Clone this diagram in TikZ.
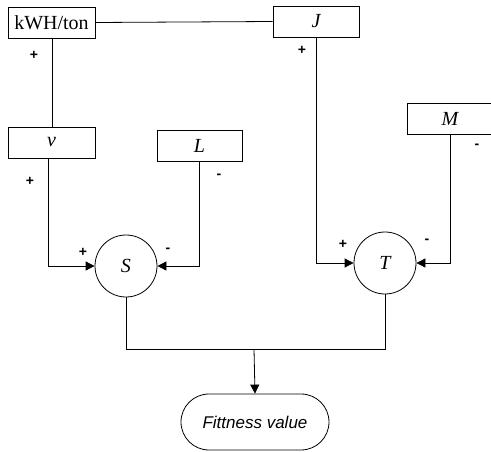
\documentclass[tikz,border=0pt]{standalone}
\usepackage{fontspec}
\setmainfont{Liberation Serif}
\newfontfamily\arialfont{Liberation Sans}
\usetikzlibrary{arrows.meta,shapes.misc}
\begin{document}
\begin{tikzpicture}[x=1pt,y=-1pt,
  line width=0.8pt,
  box/.style={draw, rectangle, minimum height=31pt, inner sep=0pt, font=\fontsize{20}{24}\selectfont},
  sumnode/.style={draw, circle, minimum size=62pt, inner sep=0pt, font=\fontsize{20}{24}\selectfont},
  outbox/.style={draw, rounded rectangle, minimum width=148pt, minimum height=56pt, inner sep=0pt, font=\arialfont\itshape\fontsize{17}{20}\selectfont},
  sign/.style={inner sep=0pt, font=\arialfont\bfseries\fontsize{14}{16}\selectfont},
  arr/.style={-{Triangle[length=9pt,width=9pt]}}]
\useasboundingbox (0,0) rectangle (491,452);
\node[box, minimum width=87pt] (k) at (51.5,22.5) {kWH/ton};
\node[box, minimum width=86pt] (J) at (316,21.5) {\itshape J};
\node[box, minimum width=87pt] (v) at (51.5,142.5) {\itshape v};
\node[box, minimum width=85pt] (L) at (199.5,145.5) {\itshape L};
\node[box, minimum width=86pt] (M) at (450,118.5) {\itshape M};
\node[sumnode] (S) at (126,266) {\itshape S};
\node[sumnode] (T) at (385,263) {\itshape T};
\node[outbox] (F) at (255,422) {Fittness value};
\coordinate (j) at (254,349);
% connectors
\draw (k.east) -- (J.west);
\draw ([xshift=0.5pt]k.south) -- ([xshift=0.5pt]k.south |- v.north);
\draw[arr] ([xshift=-3.5pt]v.south) |- (S.west);
\draw[arr] (L.south) |- (S.east);
\draw[arr] (J.south) |- (T.west);
\draw[arr] (M.south) |- (T.east);
\draw (S.south) |- (T.south |- j) -- (T.south);
\draw[arr] (j) -- (F.north);
% signs
\node[sign] (p1) at (34,55) {+};
\node[sign] (p2) at (302,50) {+};
\node[sign] (p3) at (30,181) {+};
\node[sign] (p4) at (83,252) {+};
\node[sign] (p5) at (343,244) {+};
\node[sign] (m1) at (477,146) {-};
\node[sign] (m2) at (219,176) {-};
\node[sign] (m3) at (168,250) {-};
\node[sign] (m4) at (427,241) {-};
\end{tikzpicture}
\end{document}
